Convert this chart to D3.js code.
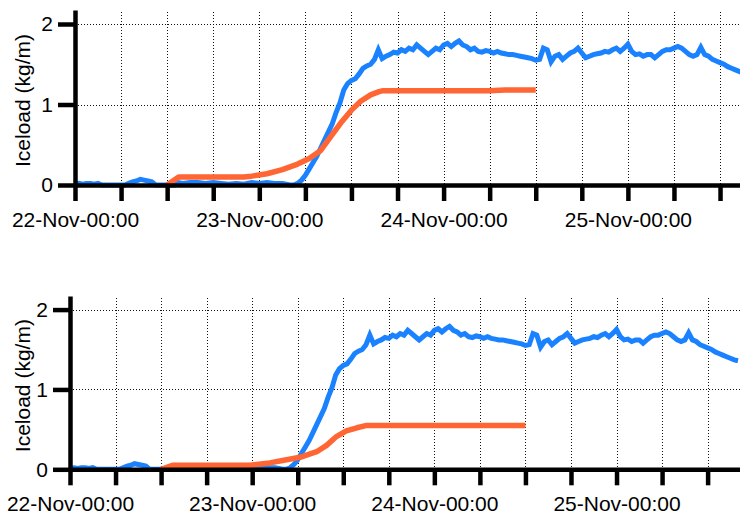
<!DOCTYPE html>
<style>
  body { margin: 0; background: white; }
  svg { display: block; font-family: "Liberation Sans", Arial, sans-serif; }
  .grid line { stroke: #111; stroke-width: 1; stroke-dasharray: 1,2; }
  .axis path, .axis line { stroke: black; stroke-width: 4.5; }
  .axis text { font-size: 21px; fill: black; }
</style>
<body>
</body>
<script src="https://cdn.jsdelivr.net/npm/d3@7"></script>
<script>
  // hours since 22-Nov 00:00
  const start = new Date(Date.UTC(2021, 10, 22, 0, 0));
  const dayTicks = [0, 24, 48, 72];

  // measured ice load (kg/m), [hour, value]
  const measured = [
    [0,0.01],[0.5,0.02],[1,0.01],[1.5,0.02],[2,0.02],[2.5,0.01],[3,0.02],[3.5,0],[4,0],[5,0],[6,0],[6.5,0],
    [7,0.02],[7.5,0.04],[8,0.05],[8.5,0.07],[9,0.06],[9.5,0.05],[10,0.04],[10.5,0],[11,0],[12,0],[13,0],
    [13.5,0.03],[14,0.02],[15,0.03],[16,0.03],[17,0.02],[18,0.03],[19,0.02],[20,0.01],[21,0.02],[22,0.01],
    [23,0.03],[24,0.02],[25,0.03],[26,0.02],[27,0.02],[28,0],[28.5,0],[29,0.02],
    [29.5,0.06],[30,0.12],[30.5,0.2],[31,0.28],[31.5,0.36],[32,0.46],[32.5,0.56],[33,0.66],[33.5,0.76],
    [34,0.9],[34.5,1.02],[35,1.18],[35.5,1.26],[36,1.3],[36.5,1.32],[37,1.38],[37.5,1.45],[38,1.48],
    [38.5,1.5],[39,1.56],[39.5,1.68],[40,1.57],[40.5,1.6],[41,1.62],[41.5,1.65],[42,1.64],[42.5,1.68],
    [43,1.66],[43.5,1.7],[44,1.68],[44.5,1.74],[45,1.7],[45.5,1.66],[46,1.62],[46.5,1.66],[47,1.7],
    [47.5,1.68],[48,1.74],[48.5,1.76],[49,1.72],[49.5,1.76],[50,1.79],[50.5,1.74],[51,1.72],[51.5,1.68],
    [52,1.7],[52.5,1.66],[53,1.65],[53.5,1.67],[54,1.66],[54.5,1.64],[55,1.66],[55.5,1.64],[56,1.63],
    [56.5,1.62],[57,1.62],[57.5,1.61],[58,1.6],[58.5,1.59],[59,1.58],[59.5,1.57],[60,1.55],[60.5,1.56],
    [61,1.7],[61.5,1.68],[62,1.53],[62.5,1.6],[63,1.62],[63.5,1.56],[64,1.6],[64.5,1.64],[65,1.66],
    [65.5,1.7],[66,1.64],[66.5,1.58],[67,1.6],[67.5,1.62],[68,1.63],[68.5,1.64],[69,1.66],[69.5,1.65],
    [70,1.68],[70.5,1.7],[71,1.66],[71.5,1.7],[72,1.75],[72.5,1.66],[73,1.62],[73.5,1.63],[74,1.6],
    [74.5,1.62],[75,1.62],[75.5,1.58],[76,1.62],[76.5,1.66],[77,1.68],[77.5,1.68],[78,1.7],[78.5,1.72],
    [79,1.7],[79.5,1.66],[80,1.62],[80.5,1.6],[81,1.62],[81.5,1.71],[82,1.62],[82.5,1.6],[83,1.56],
    [83.5,1.54],[84,1.52],[84.5,1.5],[85,1.47],[85.5,1.45],[86,1.43],[86.5,1.41],[87,1.39],[87.5,1.37],[88,1.36]
  ];

  // modelled ice load, top and bottom panel
  const modelTop = [
    [12,0],[13.5,0.1],[18,0.1],[22,0.1],[23,0.11],[25,0.14],[27,0.19],[29,0.26],[30.5,0.33],[32,0.43],
    [33.3,0.6],[34.6,0.77],[36,0.93],[37.2,1.04],[38.5,1.12],[39.6,1.16],[40,1.17],[54,1.17],[56,1.18],[60,1.18]
  ];
  const modelBottom = [
    [12,0],[13.5,0.05],[23.7,0.05],[26.3,0.08],[28,0.11],[30.3,0.15],[32.5,0.22],[33.8,0.3],[35.1,0.41],
    [36.4,0.48],[37.8,0.52],[39.1,0.55],[55,0.55],[60,0.55]
  ];

  const yTicks = [0, 1, 2];
  const yLabel = 'Iceload (kg/m)';
  const blue = '#1a82ff', orange = '#ff6633';

  const W = 740, H = 516;
  const svg = d3.select('body').append('svg').attr('width', W).attr('height', H);
  const fmt = d3.utcFormat('%d-%b-%H:%M');
  const toDate = h => d3.utcMinute.offset(start, Math.round(h * 60));

  function panel(id, cfg, model) {
    const g = svg.append('g');
    const x = d3.scaleUtc()
      .domain([start, toDate(cfg.hEnd)])
      .range([cfg.left, W]);
    const y = d3.scaleLinear()
      .domain([0, cfg.yMax])
      .range([cfg.zero, cfg.top]);

    const ticks = d3.utcHour.every(6).range(start, toDate(cfg.hEnd));

    // grid
    const grid = g.append('g').attr('class', 'grid');
    grid.selectAll('.v')
      .data(ticks.slice(1))
      .join('line')
      .attr('x1', d => Math.round(x(d)) + 0.5).attr('x2', d => Math.round(x(d)) + 0.5)
      .attr('y1', cfg.top + 2).attr('y2', cfg.zero);
    grid.selectAll('.h')
      .data(yTicks.slice(1))
      .join('line')
      .attr('x1', cfg.left).attr('x2', W)
      .attr('y1', d => Math.round(y(d)) + 0.5).attr('y2', d => Math.round(y(d)) + 0.5);

    // lines
    g.append('clipPath').attr('id', id)
      .append('rect')
      .attr('x', cfg.left).attr('y', cfg.top - 10)
      .attr('width', W - cfg.left).attr('height', cfg.zero - cfg.top + 20);

    const line = d3.line()
      .x(d => x(toDate(d[0])))
      .y(d => y(d[1]));

    const lines = g.append('g').attr('clip-path', `url(#${id})`);
    lines.append('path')
      .datum(measured)
      .attr('fill', 'none')
      .attr('stroke', blue)
      .attr('stroke-width', 5)
      .attr('stroke-linejoin', 'miter')
      .attr('d', line);
    lines.append('path')
      .datum(model)
      .attr('fill', 'none')
      .attr('stroke', orange)
      .attr('stroke-width', 5.5)
      .attr('stroke-linejoin', 'round')
      .attr('d', line);

    // x axis
    const dayDates = dayTicks.map(toDate);
    g.append('g')
      .attr('class', 'axis')
      .attr('transform', `translate(0, ${cfg.zero})`)
      .call(d3.axisBottom(x)
        .tickValues(ticks)
        .tickSize(16)
        .tickSizeOuter(0)
        .tickPadding(11)
        .tickFormat(d => dayDates.some(t => +t === +d) ? fmt(d) : ''));

    // y axis
    g.append('g')
      .attr('class', 'axis')
      .attr('transform', `translate(${cfg.left}, 0)`)
      .call(d3.axisLeft(y)
        .tickValues(yTicks)
        .tickSize(17)
        .tickSizeOuter(0)
        .tickPadding(5)
        .tickFormat(d3.format('d')));

    g.selectAll('.axis text').attr('font-family', null);

    g.append('text')
      .attr('transform', `translate(30, ${(cfg.top + cfg.zero) / 2 + 3}) rotate(-90)`)
      .attr('text-anchor', 'middle')
      .attr('font-size', 21)
      .text(yLabel);
  }

  panel('clipTop', {left: 75, hEnd: 86.6, top: 10, zero: 185, yMax: 2.174}, modelTop);
  panel('clipBottom', {left: 70, hEnd: 88.26, top: 296, zero: 469.3, yMax: 2.17}, modelBottom);
</script>
